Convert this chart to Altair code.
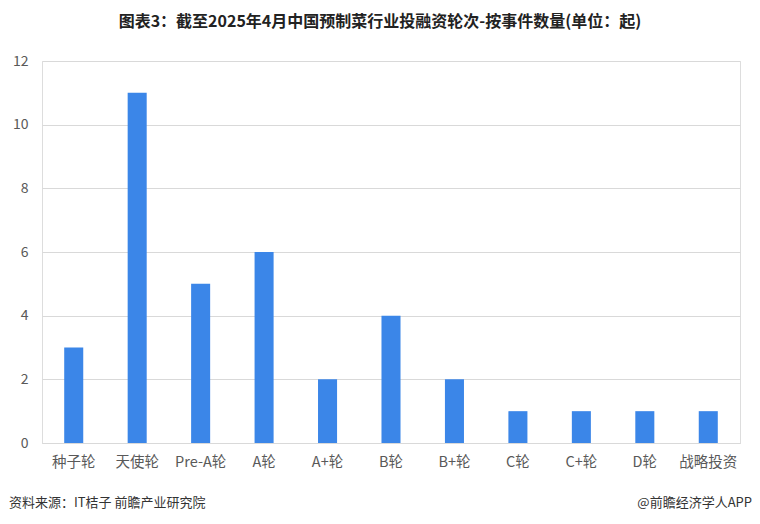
import altair as alt
import pandas as pd

categories = ["种子轮", "天使轮", "Pre-A轮", "A轮", "A+轮", "B轮", "B+轮", "C轮", "C+轮", "D轮", "战略投资"]
values = [3, 11, 5, 6, 2, 4, 2, 1, 1, 1, 1]
y_ticks = [0, 2, 4, 6, 8, 10, 12]

title_text = "图表3：截至2025年4月中国预制菜行业投融资轮次-按事件数量(单位：起)"
source_text = "资料来源：IT桔子 前瞻产业研究院"
brand_text = "@前瞻经济学人APP"

FONT = "Noto Sans CJK SC"

df = pd.DataFrame({"cat": categories, "val": values})

bars = alt.Chart(df).mark_bar(color="#3b86e8").encode(
    x=alt.X("cat:N", sort=categories, title=None,
            scale=alt.Scale(paddingInner=0.7, paddingOuter=0.35),
            axis=alt.Axis(labelAngle=0, labelFontSize=14.5, labelColor="#595959",
                          labelFont=FONT, labelPadding=12, ticks=False,
                          domainColor="#d9d9d9", domainWidth=1)),
    y=alt.Y("val:Q", title=None,
            scale=alt.Scale(domain=[0, 12], nice=False),
            axis=alt.Axis(values=y_ticks, labelFontSize=14, labelColor="#595959",
                          labelFont=FONT, labelPadding=14, ticks=False, domain=False,
                          gridColor="#d9d9d9", gridWidth=1)),
)

src = alt.Chart(pd.DataFrame({"t": [source_text]})).mark_text(
    align="left", baseline="middle", fontSize=13, font=FONT, color="#333333"
).encode(text="t:N", x=alt.value(-33), y=alt.value(442))

brand = alt.Chart(pd.DataFrame({"t": [brand_text]})).mark_text(
    align="right", baseline="middle", fontSize=13, font=FONT, color="#333333"
).encode(text="t:N", x=alt.value(710), y=alt.value(442))

chart = alt.layer(bars, src, brand).properties(
    width=698, height=382,
    title=alt.TitleParams(title_text, anchor="middle", fontSize=16, fontWeight="bold",
                          font=FONT, color="#222222", offset=24, dx=-11),
    autosize=alt.AutoSizeParams(type="none"),
    padding={"left": 34, "top": 53, "right": 12, "bottom": 73},
).configure_view(stroke=None).configure(background="white")

chart.save("out.html", embed_options={"renderer": "svg", "actions": False})
